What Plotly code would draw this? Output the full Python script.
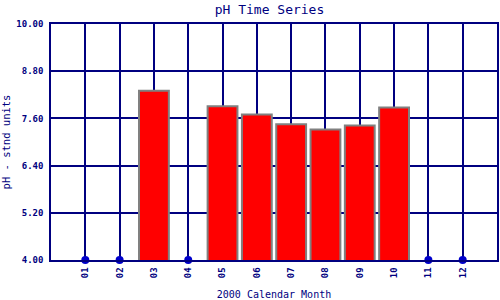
import plotly.graph_objects as go

months = ["01", "02", "03", "04", "05", "06", "07", "08", "09", "10", "11", "12"]
ph_values = [None, None, 8.30, None, 7.91, 7.70, 7.45, 7.32, 7.42, 7.88, None, None]
y_ticks = [4.00, 5.20, 6.40, 7.60, 8.80, 10.00]

navy = "#000080"
font = "DejaVu Sans Mono"

xpos = list(range(1, len(months) + 1))
bar_x = [x for x, v in zip(xpos, ph_values) if v is not None]
bar_y = [v for v in ph_values if v is not None]
miss_x = [x for x, v in zip(xpos, ph_values) if v is None]
miss_y = [y_ticks[0]] * len(miss_x)

fig = go.Figure()
fig.add_trace(go.Bar(
    x=bar_x, y=bar_y, width=0.87,
    marker=dict(color="#FF0000", line=dict(color="#808080", width=2)),
))
fig.add_trace(go.Scatter(
    x=miss_x, y=miss_y, mode="markers",
    marker=dict(color="#0000CC", size=8),
    cliponaxis=False,
))

fig.update_layout(
    width=500, height=300,
    margin=dict(l=51, r=1, t=24, b=40),
    paper_bgcolor="white", plot_bgcolor="white",
    showlegend=False,
    title=dict(text="pH Time Series", x=0.539, xanchor="center", y=0.967, yanchor="middle",
               font=dict(family=font, size=13, color=navy)),
    font=dict(family=font, color=navy),
    xaxis=dict(
        range=[0, 13], tickmode="array", tickvals=xpos, ticktext=months,
        tickangle=-90, tickfont=dict(family=font, size=9, color=navy, weight="bold"),
        showgrid=True, gridcolor=navy, gridwidth=1.5,
        showline=True, linecolor=navy, linewidth=1.5, mirror=True,
        ticks="", zeroline=False, ticklabelstandoff=2,
        title=dict(text="2000 Calendar Month", font=dict(family=font, size=10, color=navy), standoff=14),
    ),
    yaxis=dict(
        range=[4, 10], tickmode="array", tickvals=y_ticks,
        ticktext=[f"{v:.2f}" for v in y_ticks],
        tickfont=dict(family=font, size=9, color=navy, weight="bold"),
        showgrid=True, gridcolor=navy, gridwidth=1.5,
        showline=True, linecolor=navy, linewidth=1.5, mirror=True,
        ticks="", zeroline=False, ticklabelstandoff=4,
        title=dict(text="pH - stnd units", font=dict(family=font, size=10.5, color=navy), standoff=6),
    ),
)

fig.write_html("out.html")
